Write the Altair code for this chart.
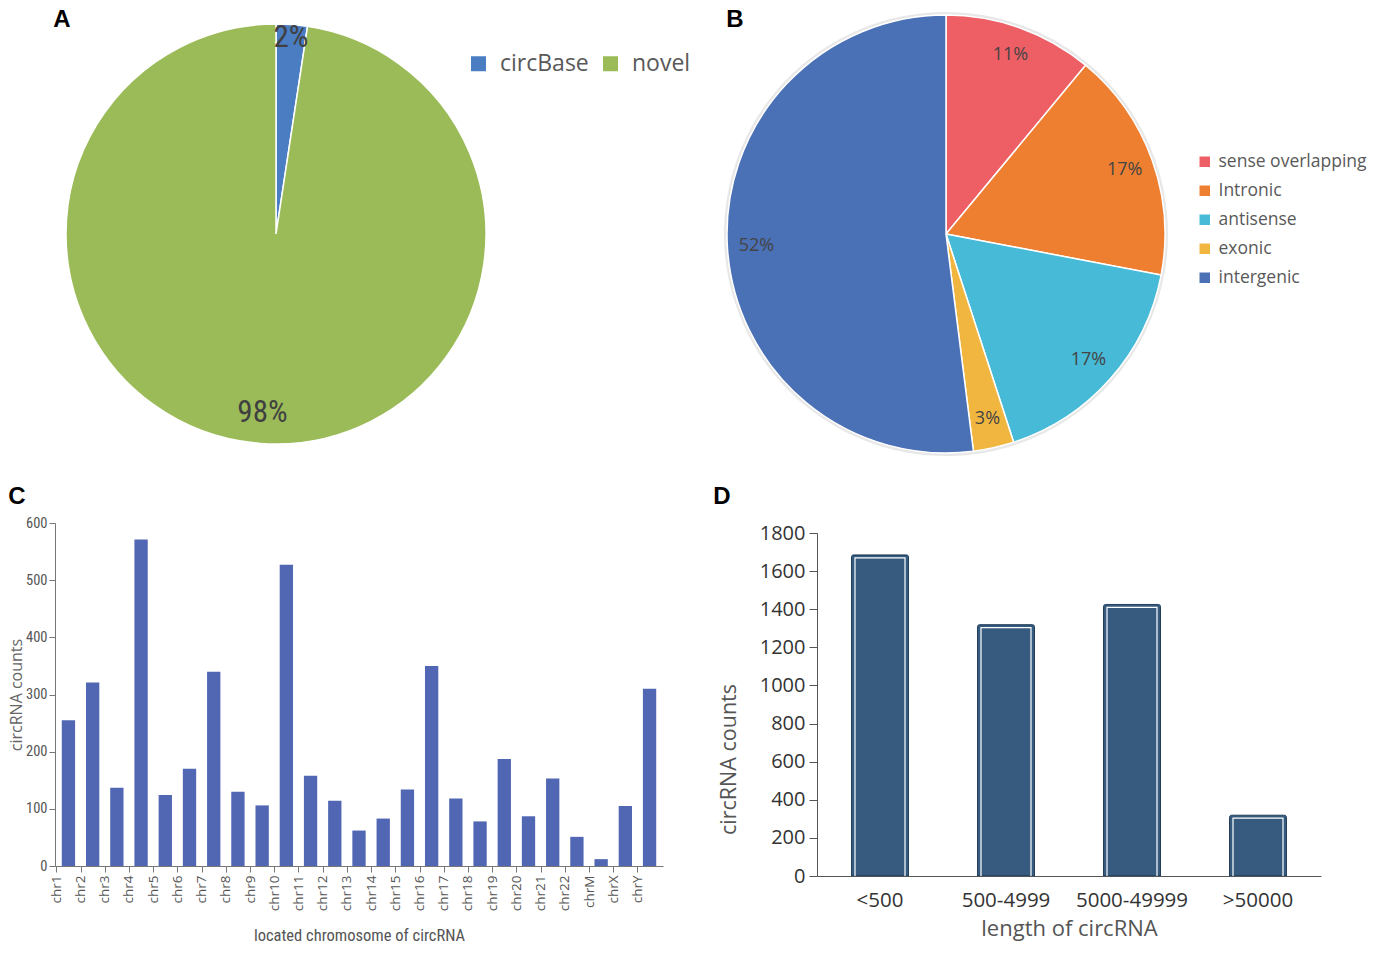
import altair as alt
import pandas as pd

# ---------------- data ----------------
panel_letters = ["A", "B", "C", "D"]

source_names = ["circBase", "novel"]
source_pcts = [2.4, 97.6]
source_colors = ["#4A7DC2", "#9BBB59"]

type_names = ["sense overlapping", "Intronic", "antisense", "exonic", "intergenic"]
type_pcts = [11, 17, 17, 3, 52]
type_colors = ["#EE5F65", "#EE7F31", "#46BAD6", "#F1B640", "#4A70B6"]

chroms = ["chr1", "chr2", "chr3", "chr4", "chr5", "chr6", "chr7", "chr8", "chr9",
          "chr10", "chr11", "chr12", "chr13", "chr14", "chr15", "chr16", "chr17",
          "chr18", "chr19", "chr20", "chr21", "chr22", "chrM", "chrX", "chrY"]
chrom_counts = [255, 321, 137, 571, 124, 170, 340, 130, 106, 527, 158, 114, 62,
                83, 134, 350, 118, 78, 187, 87, 153, 51, 12, 105, 310]

length_bins = ["<500", "500-4999", "5000-49999", ">50000"]
length_counts = [1685, 1319, 1425, 319]

NARROW = "Liberation Sans Narrow, Roboto Condensed, Arial Narrow, Roboto, sans-serif"
SANS = "Open Sans, Noto Sans, sans-serif"


def letter(ch, x, y):
    return alt.Chart(pd.DataFrame({"t": [ch]})).mark_text(
        font="Liberation Sans, Arial, sans-serif", fontWeight="bold", fontSize=24,
        align="center", baseline="top", color="black"
    ).encode(text="t:N", x=alt.value(x), y=alt.value(y))


def pie_labels(base):
    return base.transform_window(
        cum="sum(pct)", sort=[alt.SortField("order")], frame=[None, 0]
    ).transform_calculate(
        mid="datum.cum - datum.pct / 2",
        label="format(datum.pct, '.0f') + '%'"
    )


THETA_SCALE = alt.Scale(domain=[0, 100])

# ---------------- panel A ----------------
dfA = pd.DataFrame({"name": source_names, "pct": source_pcts,
                    "order": list(range(len(source_names)))})
baseA = alt.Chart(dfA)
arcA = baseA.mark_arc(radius=210, stroke="white", strokeWidth=1.5).encode(
    theta=alt.Theta("pct:Q", stack=True, scale=THETA_SCALE),
    order=alt.Order("order:Q"),
    color=alt.Color("name:N", sort=source_names,
                    scale=alt.Scale(domain=source_names, range=source_colors),
                    legend=alt.Legend(orient="none", legendX=412, legendY=44,
                                      direction="horizontal", title=None,
                                      symbolType="square", symbolSize=225,
                                      symbolStrokeWidth=0, labelFont=SANS,
                                      labelFontSize=23, labelColor="#595959",
                                      labelOffset=10, columnPadding=10, padding=0,
                                      labelLimit=300)),
)
labA = pie_labels(baseA)
txtA_small = labA.transform_filter("datum.pct < 10").mark_text(
    radius=197, font=NARROW, fontSize=31, color="#404040"
).encode(theta=alt.Theta("mid:Q", stack=False, scale=THETA_SCALE), text="label:N")
txtA_big = labA.transform_filter("datum.pct >= 10").mark_text(
    radius=180, font=NARROW, fontSize=31, color="#404040"
).encode(theta=alt.Theta("mid:Q", stack=False, scale=THETA_SCALE), text="label:N")
A = alt.layer(arcA, txtA_small, txtA_big, letter(panel_letters[0], 7, 0)).properties(
    width=442, height=452)

# ---------------- panel B ----------------
dfB = pd.DataFrame({"name": type_names, "pct": type_pcts,
                    "order": list(range(len(type_names)))})
baseB = alt.Chart(dfB)
shadowB = baseB.mark_arc(radius=222, color="#E8E8E8").encode(
    theta=alt.Theta("pct:Q", stack=True, scale=THETA_SCALE),
    order=alt.Order("order:Q"),
)
arcB = baseB.mark_arc(radius=219, stroke="white", strokeWidth=1.5).encode(
    theta=alt.Theta("pct:Q", stack=True, scale=THETA_SCALE),
    order=alt.Order("order:Q"),
    color=alt.Color("name:N", sort=type_names,
                    scale=alt.Scale(domain=type_names, range=type_colors),
                    legend=alt.Legend(orient="none", legendX=674, legendY=145,
                                      direction="vertical", title=None,
                                      symbolType="square", symbolSize=110,
                                      symbolStrokeWidth=0, labelFont=SANS,
                                      labelFontSize=17.5, labelColor="#595959",
                                      labelOffset=5, rowPadding=10, padding=0,
                                      labelLimit=300)),
)
txtB = pie_labels(baseB).mark_text(
    radius=190, font=SANS, fontSize=18, color="#444444"
).encode(theta=alt.Theta("mid:Q", stack=False, scale=THETA_SCALE), text="label:N")
B = alt.layer(shadowB, arcB, txtB, letter(panel_letters[1], 213, 0)).properties(
    width=848, height=452)

# ---------------- panel C ----------------
dfC = pd.DataFrame({"chrom": chroms, "count": chrom_counts})
barsC = alt.Chart(dfC).mark_bar(color="#5267B4").encode(
    x=alt.X("chrom:N", sort=chroms, title="located chromosome of circRNA",
            scale=alt.Scale(paddingInner=0.45, paddingOuter=0.28),
            axis=alt.Axis(labelAngle=270, labelFont=SANS, labelFontSize=13.5,
                          labelColor="#555555", labelPadding=3, tickSize=6,
                          tickColor="#777777", domainColor="#777777",
                          tickOffset=-12.1, titleFont=NARROW, titleFontSize=16.5,
                          titleColor="#555555", titleFontWeight="normal",
                          titlePadding=17)),
    y=alt.Y("count:Q", title="circRNA counts",
            scale=alt.Scale(domain=[0, 600]),
            axis=alt.Axis(values=[0, 100, 200, 300, 400, 500, 600], grid=False,
                          format="d",
                          labelFont=NARROW, labelFontSize=14.5, labelColor="#555555",
                          tickSize=6, tickColor="#777777", domainColor="#777777",
                          labelPadding=2, titleFont=SANS, titleFontSize=16,
                          titleColor="#666666", titleFontWeight="normal",
                          titlePadding=1)),
)
C = alt.layer(barsC, letter(panel_letters[2], -38, -38)).properties(width=608, height=343)

# ---------------- panel D ----------------
dfD = pd.DataFrame({"bin": length_bins, "count": length_counts})
xD = alt.X("bin:N", sort=length_bins, title="length of circRNA",
           scale=alt.Scale(paddingInner=0.55, paddingOuter=0.275),
           axis=alt.Axis(labelAngle=0, labelFont=SANS, labelFontSize=20.5,
                         labelColor="#333333", tickSize=0, labelPadding=14,
                         domainColor="#555555", titleFont=SANS, titleFontSize=22,
                         titleColor="#555555", titleFontWeight="normal",
                         titlePadding=8, zindex=1))
yD = alt.Y("count:Q", title="circRNA counts",
           scale=alt.Scale(domain=[0, 1800], range=[353, 10]),
           axis=alt.Axis(values=[0, 200, 400, 600, 800, 1000, 1200, 1400, 1600, 1800],
                         format="d",
                         grid=False, labelFont=SANS, labelFontSize=20,
                         labelColor="#333333", tickSize=8, tickColor="#555555",
                         domainColor="#555555", labelPadding=4, titleFont=SANS,
                         titleFontSize=21.5, titleColor="#555555",
                         titleFontWeight="normal", titlePadding=19, titleY=236,
                         zindex=1))
outerD = alt.Chart(dfD).mark_bar(color="#365B7E", stroke="#223F5C", strokeWidth=1,
                                 size=57, cornerRadiusTopLeft=2,
                                 cornerRadiusTopRight=2).encode(x=xD, y=yD)
innerD = alt.Chart(dfD).mark_bar(filled=False, color="white", strokeWidth=1.2,
                                 size=50, yOffset=3).encode(x=xD, y=yD)
D = alt.layer(outerD, innerD, letter(panel_letters[3], -95, -38)).properties(
    width=504, height=353)

# ---------------- layout ----------------
row1 = alt.hconcat(A, B, spacing=25, bounds="flush").resolve_scale(
    color="independent", theta="independent")
row2 = alt.hconcat(C, D, spacing=154, bounds="flush").resolve_scale(
    x="independent", y="independent")
chart = alt.vconcat(row1, row2, spacing=25).resolve_scale(
    color="independent", theta="independent", x="independent", y="independent"
).properties(padding=0).configure_view(stroke=None)

chart.save("out.html", embed_options={"renderer": "svg", "actions": False})
